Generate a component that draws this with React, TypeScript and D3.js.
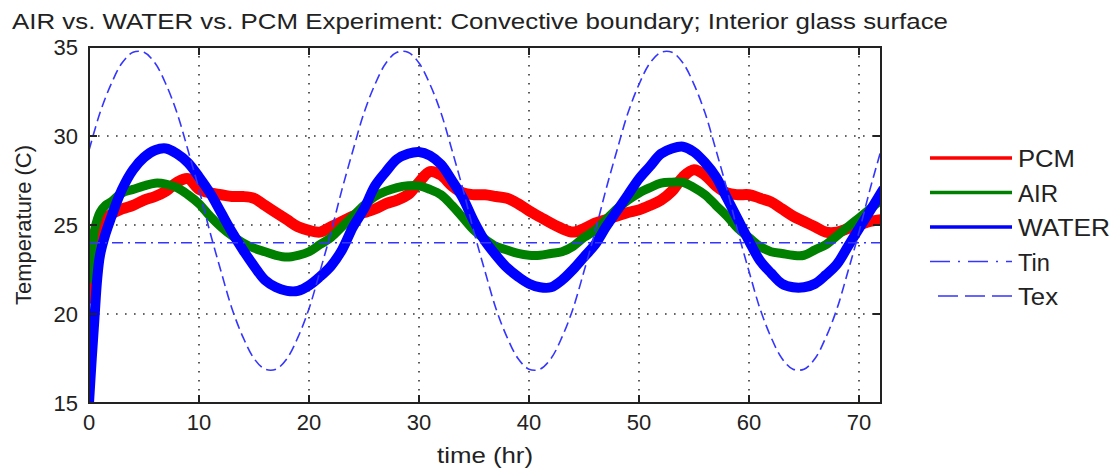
import React from 'react';
import * as d3 from 'd3';

const hours = [0, 0.25, 0.5, 0.75, 1, 1.5, 2, 3, 4, 5, 6, 7, 8, 9, 10, 11, 12, 13, 14, 15, 16, 17, 18, 19, 20, 21, 22, 23, 24, 25, 26, 27, 28, 29, 30, 31, 32, 33, 34, 35, 36, 37, 38, 39, 40, 41, 42, 43, 44, 45, 46, 47, 48, 49, 50, 51, 52, 53, 54, 55, 56, 57, 58, 59, 60, 61, 62, 63, 64, 65, 66, 67, 68, 69, 70, 71, 72];

const pcm = [21.0, 21.3, 21.9, 23.5, 24.6, 25.3, 25.6, 25.9, 26.1, 26.4, 26.6, 26.9, 27.4, 27.6, 27.0, 26.8, 26.7, 26.6, 26.6, 26.5, 26.1, 25.7, 25.3, 24.9, 24.7, 24.6, 24.9, 25.2, 25.5, 25.7, 25.9, 26.2, 26.4, 26.7, 27.4, 28.0, 27.8, 27.2, 26.8, 26.7, 26.7, 26.6, 26.5, 26.2, 25.8, 25.45, 25.1, 24.8, 24.6, 24.8, 25.1, 25.3, 25.5, 25.7, 25.85, 26.1, 26.4, 26.9, 27.7, 28.1, 27.8, 27.2, 26.8, 26.7, 26.7, 26.5, 26.3, 25.9, 25.5, 25.2, 24.9, 24.6, 24.6, 24.8, 25.0, 25.2, 25.3];

const air = [22.0, 23.5, 24.7, 25.3, 25.7, 26.1, 26.3, 26.8, 27.0, 27.2, 27.35, 27.3, 27.1, 26.7, 26.2, 25.5, 24.9, 24.4, 24.0, 23.7, 23.5, 23.3, 23.2, 23.3, 23.5, 23.9, 24.3, 24.9, 25.5, 26.1, 26.6, 26.9, 27.1, 27.2, 27.2, 27.0, 26.7, 26.1, 25.4, 24.7, 24.2, 23.8, 23.6, 23.4, 23.3, 23.3, 23.4, 23.5, 23.8, 24.3, 24.7, 25.3, 25.9, 26.4, 26.8, 27.1, 27.35, 27.4, 27.4, 27.1, 26.7, 26.1, 25.5, 24.8, 24.3, 23.8, 23.5, 23.4, 23.3, 23.3, 23.6, 23.9, 24.4, 24.9, 25.4, 25.9, 26.4];

const water = [15.0, 17.5, 19.8, 22.0, 23.3, 24.5, 25.4, 27.0, 28.1, 28.8, 29.2, 29.3, 29.0, 28.5, 27.7, 26.8, 25.7, 24.6, 23.6, 22.7, 21.9, 21.5, 21.3, 21.3, 21.6, 22.1, 22.7, 23.6, 24.9, 25.9, 27.2, 28.0, 28.7, 29.0, 29.1, 28.9, 28.4, 27.5, 26.5, 25.2, 24.1, 23.3, 22.6, 22.1, 21.7, 21.5, 21.5, 21.9, 22.5, 23.2, 23.9, 24.9, 25.8, 26.7, 27.6, 28.3, 29.0, 29.3, 29.4, 29.1, 28.5, 27.7, 26.5, 25.3, 24.1, 23.0, 22.3, 21.7, 21.5, 21.5, 21.7, 22.2, 22.8, 23.8, 24.8, 25.8, 26.8];

const texHours = [0, 1, 2, 3, 4, 5, 6, 7, 8, 9, 10, 11, 12, 13, 14, 15, 16, 17, 18, 19, 20, 21, 22, 23, 24, 25, 26, 27, 28, 29, 30, 31, 32, 33, 34, 35, 36, 37, 38, 39, 40, 41, 42, 43, 44, 45, 46, 47, 48, 49, 50, 51, 52, 53, 54, 55, 56, 57, 58, 59, 60, 61, 62, 63, 64, 65, 66, 67, 68, 69, 70, 71, 72];
const tex = [29.2, 31.3, 32.9, 34.1, 34.7, 34.7, 34.1, 32.9, 31.3, 29.2, 27.0, 24.6, 22.4, 20.3, 18.7, 17.5, 16.9, 16.9, 17.5, 18.7, 20.3, 22.4, 24.6, 27.0,
  29.2, 31.3, 32.9, 34.1, 34.7, 34.7, 34.1, 32.9, 31.3, 29.2, 27.0, 24.6, 22.4, 20.3, 18.7, 17.5, 16.9, 16.9, 17.5, 18.7, 20.3, 22.4, 24.6, 27.0,
  29.2, 31.3, 32.9, 34.1, 34.7, 34.7, 34.1, 32.9, 31.3, 29.2, 27.0, 24.6, 22.4, 20.3, 18.7, 17.5, 16.9, 16.9, 17.5, 18.7, 20.3, 22.4, 24.6, 27.0, 29.2];

const tinHours = [0, 72];
const tin = [24, 24];

const xTicks = [0, 10, 20, 30, 40, 50, 60, 70];
const yTicks = [15, 20, 25, 30, 35];
const legendLabels = ['PCM', 'AIR', 'WATER', 'Tin', 'Tex'];

const titleText = 'AIR vs. WATER vs. PCM Experiment: Convective boundary; Interior glass surface';

export default function App() {
  const W = 1116, H = 468;
  const left = 89, right = 881, top = 47, bottom = 403;
  const x = d3.scaleLinear().domain([0, 72]).range([left, right]);
  const y = d3.scaleLinear().domain([15, 35]).range([bottom, top]);

  const mk = (xs: number[], ys: number[]) => {
    const line = d3.line<number>().x((_, i) => x(xs[i])).y((v) => y(v)).curve(d3.curveCatmullRom);
    return line(ys) || '';
  };

  const font = 'Liberation Sans, Arial, Helvetica, sans-serif';
  const gridColor = '#333';
  const texColor = '#3535ff';

  const series = [
    { d: mk(hours, pcm), color: '#ff0000', w: 11, dash: undefined as string | undefined },
    { d: mk(hours, air), color: '#008000', w: 9, dash: undefined },
    { d: mk(hours, water), color: '#0000ff', w: 10, dash: undefined },
    { d: mk(tinHours, tin), color: texColor, w: 1.6, dash: '11,5,2,5' },
    { d: mk(texHours, tex), color: texColor, w: 1.6, dash: '10,5' },
  ];

  const legendY = [158, 192.5, 227, 261.5, 296];
  const legendStyles = [
    { color: '#ff0000', w: 3.5, dash: undefined as string | undefined, x0: 930 },
    { color: '#008000', w: 3.5, dash: undefined, x0: 930 },
    { color: '#0000ff', w: 3.5, dash: undefined, x0: 930 },
    { color: texColor, w: 1.6, dash: '20,8,2,8', x0: 930 },
    { color: texColor, w: 1.6, dash: '20,7', x0: 938 },
  ];
  const legendWidths = [57, 40, 92, 32, 40];

  return (
    <svg width={W} height={H} style={{ position: 'absolute', left: 0, top: 0, background: '#fff' }} xmlns="http://www.w3.org/2000/svg">
      <defs>
        <clipPath id="plotClip">
          <rect x={left} y={top} width={right - left} height={bottom - top} />
        </clipPath>
      </defs>
      <rect x={0} y={0} width={W} height={H} fill="#fff" />
      {xTicks.filter((t) => t > 0).map((t) => (
        <line key={'gx' + t} x1={x(t)} x2={x(t)} y1={top} y2={bottom} stroke={gridColor} strokeWidth={1.6} strokeDasharray="1.6,7.4" />
      ))}
      {yTicks.filter((t) => t > 15 && t < 35).map((t) => (
        <line key={'gy' + t} x1={left} x2={right} y1={y(t)} y2={y(t)} stroke={gridColor} strokeWidth={1.6} strokeDasharray="1.6,7.4" />
      ))}
      <g clipPath="url(#plotClip)">
        {series.map((s, i) => (
          <path key={i} d={s.d} fill="none" stroke={s.color} strokeWidth={s.w} strokeDasharray={s.dash} strokeLinejoin="round" strokeLinecap={s.dash ? 'butt' : 'square'} />
        ))}
      </g>
      <rect x={left} y={top} width={right - left} height={bottom - top} fill="none" stroke="#222" strokeWidth={2} />
      {xTicks.map((t) => (
        <g key={'tx' + t}>
          <line x1={x(t)} x2={x(t)} y1={bottom} y2={bottom - 8} stroke="#222" strokeWidth={2} />
          <line x1={x(t)} x2={x(t)} y1={top} y2={top + 8} stroke="#222" strokeWidth={2} />
          <text x={x(t)} y={430} textAnchor="middle" fontFamily={font} fontSize={22} fill="#222">{t}</text>
        </g>
      ))}
      {yTicks.map((t) => (
        <g key={'ty' + t}>
          <line x1={left} x2={left + 8} y1={y(t)} y2={y(t)} stroke="#222" strokeWidth={2} />
          <line x1={right} x2={right - 8} y1={y(t)} y2={y(t)} stroke="#222" strokeWidth={2} />
          <text x={78} y={y(t) + 8} textAnchor="end" fontFamily={font} fontSize={22} fill="#222">{t}</text>
        </g>
      ))}
      <text x={12} y={29} fontFamily={font} fontSize={22} fill="#222" textLength={936} lengthAdjust="spacingAndGlyphs">{titleText}</text>
      <text x={(left + right) / 2} y={463} textAnchor="middle" fontFamily={font} fontSize={22} fill="#222" textLength={96} lengthAdjust="spacingAndGlyphs">time (hr)</text>
      <text transform={`translate(31,${(top + bottom) / 2}) rotate(-90)`} textAnchor="middle" fontFamily={font} fontSize={22} fill="#222">Temperature (C)</text>
      {legendLabels.map((lab, i) => (
        <g key={'lg' + i}>
          <line x1={legendStyles[i].x0} x2={1012} y1={legendY[i]} y2={legendY[i]} stroke={legendStyles[i].color} strokeWidth={legendStyles[i].w} strokeDasharray={legendStyles[i].dash} />
          <text x={1018} y={legendY[i] + 9} fontFamily={font} fontSize={23} fill="#222" textLength={legendWidths[i]} lengthAdjust="spacingAndGlyphs">{lab}</text>
        </g>
      ))}
    </svg>
  );
}
